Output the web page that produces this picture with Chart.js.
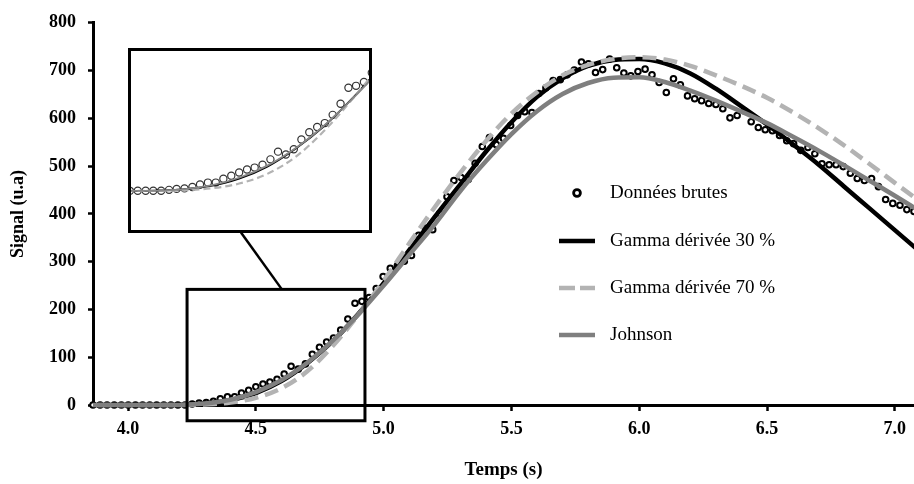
<!DOCTYPE html>
<html>
<head>
<meta charset="utf-8">
<script src="https://cdn.jsdelivr.net/npm/chart.js@4.4.1/dist/chart.umd.min.js"></script>
<style>
    html, body { margin: 0; padding: 0; background: #fff; }
    #wrap { position: relative; width: 914px; height: 484px; }
    #inset {
        position: absolute; left: 128px; top: 48px; width: 244px; height: 185px;
        border: 3px solid #000; box-sizing: border-box; background: #fff;
    }
    #inset canvas { display: block; }
</style>
</head>
<body>
<div id="wrap">
    <canvas id="mainChart" width="914" height="484"></canvas>
    <div id="inset"><canvas id="zoomChart" width="238" height="179"></canvas></div>
</div>
<script>
// raw measurements (s, u.a)
const TIME = [
    3.863, 3.891, 3.918, 3.946, 3.974, 4.001, 4.029, 4.057, 4.085, 4.112,
    4.140, 4.168, 4.195, 4.223, 4.251, 4.278, 4.306, 4.334, 4.361, 4.389,
    4.417, 4.444, 4.472, 4.500, 4.528, 4.555, 4.583, 4.611, 4.638, 4.666,
    4.694, 4.721, 4.749, 4.777, 4.804, 4.832, 4.860, 4.888, 4.915, 4.943,
    4.971, 4.998, 5.026, 5.054, 5.081, 5.109, 5.137, 5.164, 5.192, 5.220,
    5.248, 5.275, 5.303, 5.331, 5.358, 5.386, 5.414, 5.441, 5.469, 5.497,
    5.524, 5.552, 5.580, 5.607, 5.635, 5.663, 5.691, 5.718, 5.746, 5.774,
    5.801, 5.829, 5.857, 5.884, 5.912, 5.940, 5.967, 5.995, 6.023, 6.050,
    6.078, 6.106, 6.134, 6.161, 6.189, 6.217, 6.244, 6.272, 6.300, 6.327,
    6.355, 6.383, 6.410, 6.438, 6.466, 6.493, 6.521, 6.549, 6.577, 6.604,
    6.632, 6.660, 6.687, 6.715, 6.743, 6.770, 6.798, 6.826, 6.853, 6.881,
    6.909, 6.936, 6.964, 6.992, 7.020, 7.047, 7.075
];
const SIGNAL = [
    0, 0, 0, 0, 0, 0, 0, 0, 0, 0,
    0, 0, 0, 0, 2, 4, 5, 8, 13, 17,
    17, 25, 31, 38, 44, 48, 54, 65, 81, 75,
    86, 106, 121, 132, 140, 157, 180, 213, 217, 225,
    244, 269, 286, 292, 301, 313, 355, 370, 367, 401,
    436, 470, 476, 472, 506, 541, 560, 545, 558, 585,
    606, 614, 612, 652, 664, 679, 681, 691, 701, 718,
    714, 696, 702, 724, 706, 695, 689, 698, 703, 691,
    675, 654, 683, 670, 647, 641, 637, 631, 629, 620,
    601, 606, 616, 593, 581, 576, 574, 564, 553, 547,
    533, 539, 526, 505, 503, 503, 499, 485, 474, 470,
    474, 457, 430, 422, 418, 409, 405
];

// fitted models
const FIT_TIME = [
    3.8, 3.9, 4.0, 4.1, 4.2, 4.3, 4.4, 4.5, 4.6, 4.7, 4.8, 4.9,
    5.0, 5.1, 5.2, 5.3, 5.4, 5.5, 5.6, 5.7, 5.8, 5.9,
    6.0, 6.1, 6.2, 6.3, 6.4, 6.5, 6.6, 6.7, 6.8, 6.9, 7.0, 7.1
];
const GAMMA_30 = [
    0, 0, 0, 0, 0.5, 3, 10, 25, 50, 87, 133, 190,
    255, 324, 394, 462, 530, 592, 645, 684, 710, 722,
    724, 715, 694, 662, 625, 587, 546, 504, 458, 412, 366, 320
];
const GAMMA_70 = [
    0, 0, 0, 0, 0, 1, 5, 15, 35, 70, 123, 188,
    260, 338, 414, 486, 552, 610, 655, 690, 712, 724,
    728, 723, 710, 690, 668, 643, 613, 580, 544, 505, 465, 425
];
const JOHNSON = [
    0, 0, 0, 0, 0, 3, 11, 27, 52, 88, 134, 189,
    250, 314, 378, 448, 510, 567, 615, 651, 674, 685,
    686, 676, 658, 637, 614, 590, 562, 533, 502, 470, 438, 405
];

const X_TICKS = [4.0, 4.5, 5.0, 5.5, 6.0, 6.5, 7.0];
const Y_TICKS = [0, 100, 200, 300, 400, 500, 600, 700, 800];

// zoomed region (data units) and the inset's view of it
const ZOOM_X = [4.231, 4.927];
const ZOOM_Y = [-33, 242];
const INSET_X = [4.116, 4.961];
const INSET_Y = [-81, 289];

const FONT = "'Liberation Serif', 'Times New Roman', serif";

function pts(xs, ys) {
    return xs.map((x, i) => ({ x: x, y: ys[i] }));
}

function axisFont(size) {
    return { family: FONT, size: size, weight: 'bold' };
}

// frame around the zoomed region + connector to the inset
const zoomBoxPlugin = {
    id: 'zoomBox',
    afterDatasetsDraw(chart) {
        const { ctx, scales: { x, y } } = chart;
        const x0 = x.getPixelForValue(ZOOM_X[0]);
        const x1 = x.getPixelForValue(ZOOM_X[1]);
        const y0 = y.getPixelForValue(ZOOM_Y[1]);
        const y1 = y.getPixelForValue(ZOOM_Y[0]);
        ctx.save();
        ctx.strokeStyle = '#000';
        ctx.lineWidth = 3;
        ctx.strokeRect(x0, y0, x1 - x0, y1 - y0);
        ctx.lineWidth = 2.5;
        ctx.beginPath();
        ctx.moveTo(x.getPixelForValue(4.442), y.getPixelForValue(361));
        ctx.lineTo(x.getPixelForValue(4.602), y0);
        ctx.stroke();
        ctx.restore();
    }
};

// legend sitting inside the plot, right side
const innerLegend = {
    id: 'innerLegend',
    afterDraw(chart) {
        const ctx = chart.ctx;
        const rows = [193, 241, 288, 335];
        const lx0 = 559, lx1 = 595, tx = 610;
        ctx.save();
        ctx.font = "19px " + FONT;
        ctx.textBaseline = 'middle';
        ctx.fillStyle = '#000';
        chart.data.datasets.forEach((ds, i) => {
            const yy = rows[i];
            if (ds.showLine === false) {
                ctx.beginPath();
                ctx.arc((lx0 + lx1) / 2, yy, 3.4, 0, Math.PI * 2);
                ctx.fillStyle = '#fff';
                ctx.fill();
                ctx.lineWidth = 2.8;
                ctx.strokeStyle = '#000';
                ctx.stroke();
            } else {
                ctx.beginPath();
                ctx.setLineDash(ds.borderDash ? [16, 5] : []);
                ctx.lineWidth = 4.5;
                ctx.strokeStyle = ds.borderColor;
                ctx.moveTo(lx0, yy);
                ctx.lineTo(lx1, yy);
                ctx.stroke();
                ctx.setLineDash([]);
            }
            ctx.fillStyle = '#000';
            ctx.fillText(ds.label, tx, yy);
        });
        ctx.restore();
    }
};

const curveClip = { left: 0, right: 0, top: 0, bottom: 4 };

const mainCtx = document.getElementById('mainChart');
const mainChart = new Chart(mainCtx, {
    type: 'line',
    data: {
        datasets: [
            {
                label: 'Données brutes',
                data: pts(TIME, SIGNAL),
                showLine: false,
                pointRadius: 2.8,
                pointBorderWidth: 2,
                pointBorderColor: '#000',
                pointBackgroundColor: '#fff',
                clip: false,
                order: 3
            },
            {
                label: 'Gamma dérivée 30 %',
                data: pts(FIT_TIME, GAMMA_30),
                borderColor: '#000',
                borderWidth: 4.5,
                pointRadius: 0,
                cubicInterpolationMode: 'monotone',
                clip: curveClip,
                order: 2
            },
            {
                label: 'Gamma dérivée 70 %',
                data: pts(FIT_TIME, GAMMA_70),
                borderColor: '#b3b3b3',
                borderWidth: 4.5,
                borderDash: [14, 7],
                pointRadius: 0,
                cubicInterpolationMode: 'monotone',
                clip: curveClip,
                order: 1
            },
            {
                label: 'Johnson',
                data: pts(FIT_TIME, JOHNSON),
                borderColor: '#7f7f7f',
                borderWidth: 4.5,
                pointRadius: 0,
                cubicInterpolationMode: 'monotone',
                clip: curveClip,
                order: 0
            }
        ]
    },
    options: {
        responsive: false,
        animation: false,
        layout: { autoPadding: false, padding: { top: 22, right: 0, bottom: 0, left: 0 } },
        plugins: {
            legend: { display: false },
            tooltip: { enabled: false }
        },
        scales: {
            x: {
                type: 'linear',
                min: 3.863,
                max: 7.075,
                afterBuildTicks: s => { s.ticks = X_TICKS.map(v => ({ value: v })); },
                afterFit: s => {
                    s.height = 79;
                    s.paddingLeft = 0;
                    s.paddingRight = 0;
                },
                border: { color: '#000', width: 3 },
                grid: { drawOnChartArea: false, tickLength: 6, tickWidth: 2.5, tickColor: '#000' },
                ticks: {
                    color: '#000',
                    font: axisFont(18),
                    padding: 8,
                    maxRotation: 0,
                    callback: v => Number(v).toFixed(1)
                },
                title: {
                    display: true,
                    text: 'Temps (s)',
                    color: '#000',
                    font: axisFont(19),
                    padding: { top: 0, bottom: 3 }
                }
            },
            y: {
                min: 0,
                max: 800,
                afterBuildTicks: s => { s.ticks = Y_TICKS.map(v => ({ value: v })); },
                afterFit: s => { s.width = 93; },
                border: { color: '#000', width: 3 },
                grid: { drawOnChartArea: false, tickLength: 5, tickWidth: 2.5, tickColor: '#000' },
                ticks: { color: '#000', font: axisFont(18), padding: 12 },
                title: {
                    display: true,
                    text: 'Signal (u.a)',
                    color: '#000',
                    font: axisFont(18),
                    padding: { top: 8, bottom: 0 }
                }
            }
        }
    },
    plugins: [zoomBoxPlugin, innerLegend]
});

// magnified view of the onset
const zoomCtx = document.getElementById('zoomChart');
const zoomChart = new Chart(zoomCtx, {
    type: 'line',
    data: {
        datasets: [
            {
                data: pts(TIME, SIGNAL),
                showLine: false,
                pointRadius: 3.6,
                pointBorderWidth: 1.2,
                pointBorderColor: '#333',
                pointBackgroundColor: '#fff',
                order: 3
            },
            {
                data: pts(FIT_TIME, GAMMA_30),
                borderColor: '#000',
                borderWidth: 1.8,
                pointRadius: 0,
                cubicInterpolationMode: 'monotone',
                order: 2
            },
            {
                data: pts(FIT_TIME, GAMMA_70),
                borderColor: '#b3b3b3',
                borderWidth: 2.2,
                borderDash: [7, 4],
                pointRadius: 0,
                cubicInterpolationMode: 'monotone',
                order: 1
            },
            {
                data: pts(FIT_TIME, JOHNSON),
                borderColor: '#888',
                borderWidth: 1.8,
                pointRadius: 0,
                cubicInterpolationMode: 'monotone',
                order: 0
            }
        ]
    },
    options: {
        responsive: false,
        animation: false,
        layout: { autoPadding: false, padding: 0 },
        plugins: {
            legend: { display: false },
            tooltip: { enabled: false }
        },
        scales: {
            x: { type: 'linear', display: false, min: INSET_X[0], max: INSET_X[1] },
            y: { display: false, min: INSET_Y[0], max: INSET_Y[1] }
        }
    }
});
</script>
</body>
</html>
